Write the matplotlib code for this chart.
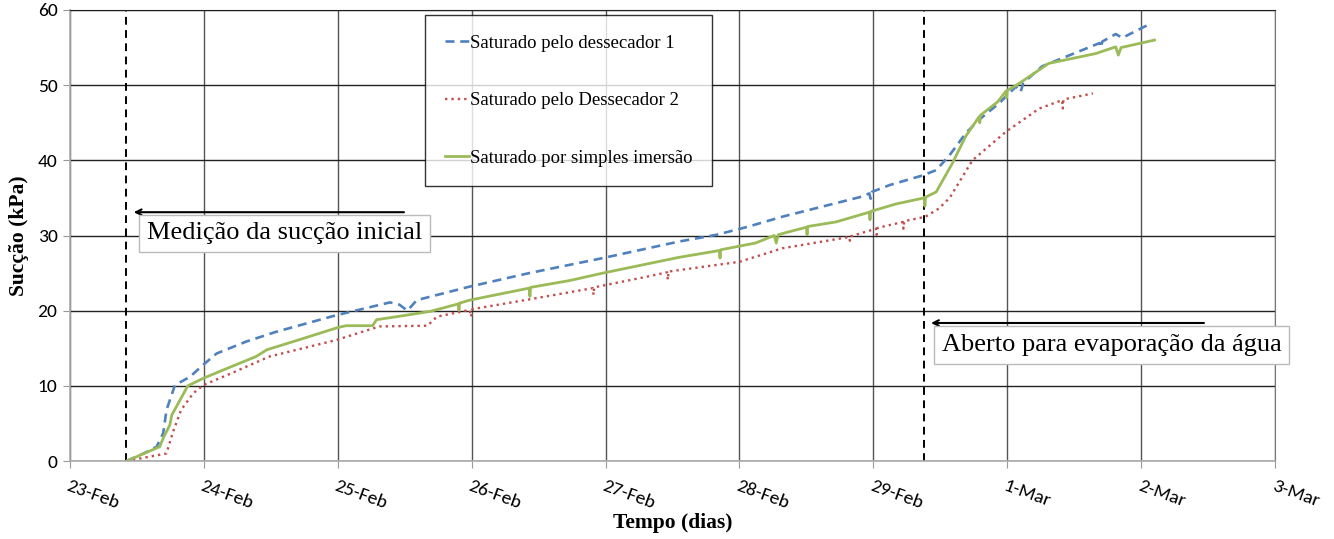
import numpy as np
import matplotlib
matplotlib.use("Agg")
import matplotlib.pyplot as plt

# days counted from 23-Feb (leap year)
tick_labels = ['23-Feb', '24-Feb', '25-Feb', '26-Feb', '27-Feb',
               '28-Feb', '29-Feb', '1-Mar', '2-Mar', '3-Mar']

# Saturado pelo dessecador 1
d1_days = [0.423, 0.55, 0.647, 0.696, 0.721, 0.784, 0.896, 0.995, 1.095, 1.318,
           1.542, 1.99, 2.39, 2.46, 2.52, 2.59, 2.985, 3.43, 3.98, 4.55,
           4.83, 5.07, 5.32, 5.52, 5.92, 5.97, 5.98, 5.99, 6.12, 6.37,
           6.47, 6.57, 6.69, 6.79, 6.94, 7.065, 7.10, 7.12, 7.26, 7.69,
           7.70, 7.71, 7.81, 7.86, 8.05]
d1_vals = [0.0, 1.0, 1.9, 3.7, 6.8, 10.1, 11.2, 12.8, 14.3, 15.9,
           17.2, 19.4, 21.1, 20.8, 20.0, 21.4, 23.2, 25.0, 27.0, 29.2,
           30.1, 31.2, 32.5, 33.4, 35.2, 35.6, 34.9, 35.8, 36.7, 38.0,
           38.7, 40.7, 43.6, 45.4, 47.6, 49.8, 49.1, 50.3, 52.5, 55.6,
           55.0, 55.8, 56.8, 56.3, 58.0]

# Saturado pelo Dessecador 2
d2_days = [0.423, 0.72, 0.77, 0.83, 0.92, 0.995, 1.17, 1.49, 1.99, 2.31,
           2.67, 2.74, 2.985, 2.995, 3.005, 3.43, 3.905, 3.91, 3.915, 4.33,
           4.46, 4.465, 4.47, 4.55, 5.0, 5.32, 5.82, 5.825, 5.83, 6.02,
           6.025, 6.03, 6.22, 6.225, 6.23, 6.39, 6.49, 6.57, 6.74, 6.99,
           7.24, 7.41, 7.415, 7.42, 7.64]
d2_vals = [0.0, 1.0, 3.9, 6.8, 9.0, 10.1, 11.4, 13.9, 16.1, 17.9,
           18.0, 19.2, 20.1, 19.2, 20.2, 21.5, 23.0, 22.1, 23.1, 24.6,
           25.1, 24.1, 25.2, 25.4, 26.5, 28.3, 29.8, 29.3, 29.9, 30.9,
           30.1, 31.0, 31.8, 30.9, 31.9, 32.5, 33.6, 35.0, 40.0, 43.8,
           46.9, 48.0, 46.9, 48.1, 48.9]

# Saturado por simples imersão
im_days = [0.423, 0.67, 0.70, 0.746, 0.76, 0.88, 0.995, 1.17, 1.39, 1.47,
           1.67, 1.99, 2.06, 2.26, 2.29, 2.44, 2.69, 2.90, 2.905, 2.91,
           2.985, 3.43, 3.435, 3.44, 3.73, 3.98, 4.55, 4.85, 4.855, 4.86,
           5.12, 5.26, 5.275, 5.29, 5.35, 5.50, 5.505, 5.51, 5.72, 5.97,
           5.975, 5.98, 6.17, 6.38, 6.385, 6.39, 6.47, 6.59, 6.69, 6.79,
           6.795, 6.80, 6.93, 6.99, 6.995, 7.0, 7.07, 7.31, 7.66, 7.81,
           7.83, 7.85, 8.10]
im_vals = [0.0, 1.9, 3.2, 4.8, 6.1, 10.0, 11.0, 12.3, 13.9, 14.8,
           15.9, 17.7, 18.0, 18.0, 18.8, 19.2, 19.9, 20.9, 20.1, 21.0,
           21.4, 23.0, 21.9, 23.1, 24.0, 25.0, 27.1, 28.0, 27.0, 28.1,
           29.0, 30.0, 29.0, 30.1, 30.4, 31.1, 30.1, 31.2, 31.8, 33.1,
           32.1, 33.2, 34.2, 35.0, 33.9, 35.1, 35.8, 39.6, 43.2, 45.8,
           45.0, 46.0, 47.8, 49.2, 48.3, 49.3, 50.0, 52.9, 54.2, 55.1,
           54.0, 55.0, 56.0]

event_days = [0.418, 6.38]

plt.rcParams['font.family'] = ['Carlito', 'Lato', 'DejaVu Sans']

fig = plt.figure(figsize=(13.34, 5.39), dpi=100)
ax = fig.add_axes([70 / 1334, 1 - 461 / 539, 1205 / 1334, 451 / 539])

ax.plot(d1_days, d1_vals, color='#4F81BD', lw=1.9, linestyle=(0, (3.4, 2.2)),
        label='Saturado pelo dessecador 1')
ax.plot(d2_days, d2_vals, color='#C0504D', lw=1.7, linestyle=(0, (1, 1.7)),
        label='Saturado pelo Dessecador 2')
ax.plot(im_days, im_vals, color='#9BBB59', lw=2.0, linestyle='-',
        label='Saturado por simples imersão')

for d in event_days:
    ax.axvline(d, color='black', lw=1.4, linestyle=(0, (4, 2.8)), zorder=1)

ax.set_xlim(0, 9)
ax.set_ylim(0, 60)
ax.set_xticks(range(len(tick_labels)))
ax.set_xticklabels(tick_labels, rotation=-20, ha='left', va='top',
                   rotation_mode='anchor', fontsize=14)
ax.set_yticks(range(0, 61, 10))
ax.tick_params(axis='y', labelsize=14, length=5, color='#999999', pad=4)
ax.tick_params(axis='x', length=5, color='#999999', pad=7)

ax.grid(True, axis='y', color='#222222', lw=1.0, zorder=0)
ax.grid(True, axis='x', color='#555555', lw=1.0, zorder=0)
ax.set_axisbelow(True)
for side in ['left', 'bottom']:
    ax.spines[side].set_color('#aaaaaa')
    ax.spines[side].set_linewidth(1.2)
ax.spines['right'].set_color('#777777')
ax.spines['top'].set_color('#222222')

ax.set_xlabel('Tempo (dias)', fontsize=15.5, fontweight='bold',
              family='Liberation Serif', labelpad=1)
ax.set_ylabel('Sucção (kPa)', fontsize=15.5, fontweight='bold',
              family='Liberation Serif', labelpad=6)

leg = ax.legend(loc='upper left', bbox_to_anchor=(0.2946, 0.989),
                prop={'family': 'Liberation Serif', 'size': 13.5},
                frameon=True, fancybox=False, edgecolor='black',
                handlelength=1.3, handletextpad=0.05, labelspacing=2.15,
                borderpad=1.05, borderaxespad=0)
leg.get_frame().set_linewidth(1.0)

box = dict(boxstyle='square,pad=0.3', facecolor='white', edgecolor='#bbbbbb', lw=1)
ax.annotate('', xy=(0.455, 33.1), xytext=(2.515, 33.1),
            arrowprops=dict(arrowstyle='->', color='black', lw=1.5))
ax.text(1.604, 30.27, 'Medição da sucção inicial', ha='center', va='center',
        fontsize=19, family='Liberation Serif', bbox=box)
ax.annotate('', xy=(6.41, 18.36), xytext=(8.49, 18.36),
            arrowprops=dict(arrowstyle='->', color='black', lw=1.5))
ax.text(7.78, 15.43, 'Aberto para evaporação da água', ha='center', va='center',
        fontsize=19, family='Liberation Serif', bbox=box, clip_on=False)

fig.savefig('out.png', dpi=100)
